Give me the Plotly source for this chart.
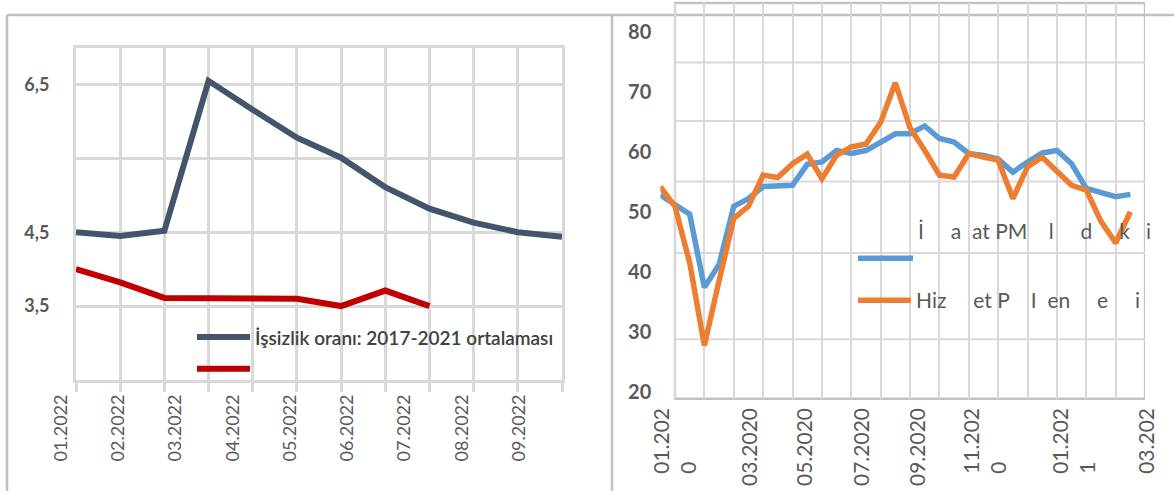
import plotly.graph_objects as go

# ---------------- data ----------------
# Left chart: unemployment
left_labels = ["01.2022", "02.2022", "03.2022", "04.2022", "05.2022",
               "06.2022", "07.2022", "08.2022", "09.2022"]
unemp_avg = [4.50, 4.45, 4.52, 6.55, 6.16, 5.78, 5.51, 5.11, 4.82, 4.63, 4.50, 4.44]
unemp_2022 = [4.00, 3.82, 3.61, 3.61, 3.60, 3.60, 3.50, 3.71, 3.50]
unemp_avg_name = "İşsizlik oranı: 2017-2021 ortalaması"
unemp_2022_name = ""
left_y_ticks = [2.5, 3.5, 4.5, 5.5, 6.5, 7.0]
left_y_text = ["", "3,5", "4,5", "", "6,5", ""]

# Right chart: PMI
NB = "\u00a0"
HID = "<span style='color:rgba(0,0,0,0)'>{}</span>"
right_labels = ["01.202<br>0" + HID.format("1.202"), "03.2020", "05.2020", "07.2020",
                "09.2020", "11.202<br>0" + HID.format("1.202"),
                "01.202<br>1" + HID.format("1.202"), "03.202"]
pmi_manuf = [52.8, 51.2, 49.6, 37.4, 41.2, 50.9, 52.2, 54.2, 54.3, 54.4, 57.9,
             58.3, 60.2, 59.7, 60.2, 61.5, 63.0, 63.0, 64.3, 62.2, 61.6, 59.7,
             59.4, 58.8, 56.6, 58.3, 59.8, 60.2, 58.0, 53.9, 53.3, 52.5, 52.9]
pmi_serv = [54.2, 50.9, 41.5, 27.7, 38.5, 48.9, 50.9, 56.1, 55.7, 58.0, 59.6,
            55.5, 59.4, 60.8, 61.3, 64.9, 71.5, 64.0, 60.2, 56.1, 55.8, 59.7,
            59.1, 58.6, 52.2, 57.5, 59.1, 56.6, 54.4, 53.6, 48.4, 44.8, 50.0]
pmi_manuf_name = ("İ" + NB * 5 + "a" + NB * 2 + "at" + NB + "PM" + NB * 4 + "l" + NB * 5
                  + "d" + NB * 5 + "k" + NB * 3 + "i<br>" + NB)
pmi_serv_name = ("Hiz" + NB * 5 + "et" + NB + "P" + NB * 4 + "I" + NB * 2 + "en" + NB * 5
                 + "e" + NB * 5 + "i")
right_y_ticks = [20, 30, 40, 50, 60, 70, 80]
right_grid_vals = [74.88, 65.12, 55.04, 43.14, 28.76]

# ---------------- layout helpers ----------------
W, H = 1174, 495
def fx(p):
    return p / W
def fy(p):
    return 1 - p / H

FONT = "Lato, 'Open Sans', sans-serif"
TXT = "#595959"
GRID = "#d9d9d9"
FRAME = "#c3c3c3"

# left chart geometry (index units)
L_X0, L_STEP = 76.0, 44.18
left_label_pos = [(61 + 57.25 * k - L_X0) / L_STEP for k in range(len(left_labels))]
# right chart geometry (index units)
R_X0, R_STEP = 660.3, 14.69
right_label_px = [675.7, 750, 805, 862, 918, 985.7, 1075, 1147]
right_label_pos = [(p - R_X0) / R_STEP for p in right_label_px]

fig = go.Figure()

fig.add_trace(go.Scatter(x=list(range(len(unemp_avg))), y=unemp_avg, mode="lines",
                         name=unemp_avg_name, line=dict(color="#44546A", width=6),
                         xaxis="x", yaxis="y", legend="legend", hoverinfo="skip"))
fig.add_trace(go.Scatter(x=list(range(len(unemp_2022))), y=unemp_2022, mode="lines",
                         name=unemp_2022_name, line=dict(color="#C00000", width=6),
                         xaxis="x", yaxis="y", legend="legend2", hoverinfo="skip"))
fig.add_trace(go.Scatter(x=list(range(len(pmi_manuf))), y=pmi_manuf, mode="lines",
                         name=pmi_manuf_name, line=dict(color="#5B9BD5", width=5.5),
                         xaxis="x2", yaxis="y2", legend="legend3", hoverinfo="skip"))
fig.add_trace(go.Scatter(x=list(range(len(pmi_serv))), y=pmi_serv, mode="lines",
                         name=pmi_serv_name, line=dict(color="#ED7D31", width=5.5),
                         xaxis="x2", yaxis="y2", legend="legend4", hoverinfo="skip"))
# carriers for the label axes
fig.add_trace(go.Scatter(x=[left_label_pos[0]], y=[0.5], mode="markers",
                         marker=dict(opacity=0), xaxis="x3", yaxis="y3",
                         showlegend=False, hoverinfo="skip"))
fig.add_trace(go.Scatter(x=[right_label_pos[0]], y=[0.5], mode="markers",
                         marker=dict(opacity=0), xaxis="x4", yaxis="y4",
                         showlegend=False, hoverinfo="skip"))

left_ydom = [fy(383), fy(48)]
right_ydom = [fy(402), fy(3)]

shapes = []
# outer frames
for (x0, y0, x1, y1) in [(7, 15, W, 15), (7, 15, 7, H), (612, 15, 612, H)]:
    shapes.append(dict(type="line", xref="paper", yref="paper", x0=fx(x0), x1=fx(x1),
                       y0=fy(y0), y1=fy(y1), line=dict(color="#c0c0c0", width=2.5),
                       layer="below"))
# right chart horizontal grid
for v in right_grid_vals:
    shapes.append(dict(type="line", xref="x2", yref="y2", x0=1, x1=33, y0=v, y1=v,
                       line=dict(color=GRID, width=2), layer="below"))
# right chart frame
shapes.append(dict(type="rect", xref="x2", yref="y2 domain", x0=1, x1=33, y0=0, y1=1,
                   line=dict(color=FRAME, width=2.5), layer="below"))

fig.update_layout(
    width=W, height=H, autosize=False,
    margin=dict(l=0, r=0, t=0, b=0),
    paper_bgcolor="white", plot_bgcolor="rgba(0,0,0,0)",
    font=dict(family=FONT, color=TXT),
    showlegend=True,
    shapes=shapes,
    xaxis=dict(domain=[fx(76), fx(562)], range=[0, 11], tick0=0, dtick=1,
               showgrid=True, gridcolor=GRID, gridwidth=3,
               showline=True, linecolor=GRID, linewidth=3, mirror=True,
               ticks="outside", ticklen=9, tickwidth=3, tickcolor=GRID,
               showticklabels=False, zeroline=False, anchor="y", fixedrange=True),
    yaxis=dict(domain=left_ydom, range=[2.5, 7.0], tickvals=left_y_ticks,
               ticktext=left_y_text, showgrid=True, gridcolor=GRID, gridwidth=3,
               showline=True, linecolor=GRID, linewidth=3, mirror=True,
               ticks="", ticklabelstandoff=20, zeroline=False, anchor="x",
               tickfont=dict(family=FONT, size=18, color=TXT, weight="bold"),
               fixedrange=True),
    xaxis2=dict(domain=[fx(R_X0), fx(R_X0 + 33 * R_STEP)], range=[0, 33],
                tickvals=list(range(1, 34, 2)), showgrid=True, gridcolor=GRID,
                gridwidth=2, ticks="", showticklabels=False, showline=False,
                zeroline=False, anchor="y2", fixedrange=True),
    yaxis2=dict(domain=right_ydom, range=[18.84, 84.79], tickvals=right_y_ticks,
                showgrid=False, ticks="", showline=False, zeroline=False,
                ticklabelstandoff=8, anchor="x2",
                tickfont=dict(family=FONT, size=20, color=TXT, weight="bold"),
                fixedrange=True),
    xaxis3=dict(domain=[0, fx(600)],
                range=[(0 - L_X0) / L_STEP, (600 - L_X0) / L_STEP],
                tickvals=left_label_pos, ticktext=left_labels, tickangle=-90,
                ticks="", showgrid=False, showline=False, zeroline=False,
                ticklabelstandoff=10, anchor="y3",
                tickfont=dict(family=FONT, size=18, color=TXT), fixedrange=True),
    yaxis3=dict(domain=left_ydom, range=[0, 1], visible=False, anchor="x3",
                fixedrange=True),
    xaxis4=dict(domain=[fx(600), 1],
                range=[(600 - R_X0) / R_STEP, (W - R_X0) / R_STEP],
                tickvals=right_label_pos, ticktext=right_labels, tickangle=-90,
                ticks="", showgrid=False, showline=False, zeroline=False,
                ticklabelstandoff=4, ticklabeloverflow="allow", anchor="y4",
                tickfont=dict(family=FONT, size=21, color=TXT), fixedrange=True),
    yaxis4=dict(domain=right_ydom, range=[0, 1], visible=False, anchor="x4",
                fixedrange=True),
    legend=dict(x=fx(192), y=fy(340), xanchor="left", yanchor="middle",
                itemwidth=53, bgcolor="rgba(0,0,0,0)",
                font=dict(family=FONT, size=19, color="#404040", weight=600)),
    legend2=dict(x=fx(192), y=fy(372), xanchor="left", yanchor="middle",
                 itemwidth=53, bgcolor="rgba(0,0,0,0)",
                 font=dict(family=FONT, size=19, color="#404040")),
    legend3=dict(x=fx(853), y=fy(281), xanchor="left", yanchor="bottom",
                 itemwidth=55, valign="bottom", bgcolor="rgba(0,0,0,0)",
                 font=dict(family=FONT, size=21, color=TXT)),
    legend4=dict(x=fx(853), y=fy(303), xanchor="left", yanchor="middle",
                 itemwidth=53, bgcolor="rgba(0,0,0,0)",
                 font=dict(family=FONT, size=21, color=TXT)),
)

fig.write_html("out.html", config={"displayModeBar": False},
               post_script="document.body.style.margin='0';document.body.style.overflow='hidden';")
